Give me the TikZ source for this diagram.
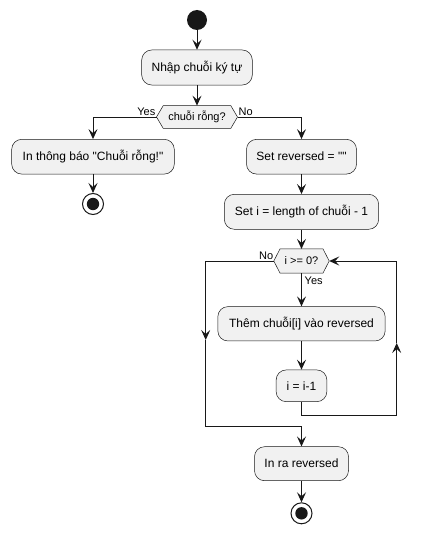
\documentclass[tikz,border=0pt]{standalone}
\usepackage{fontspec}
\setmainfont{Liberation Sans}[Ligatures=TeXOff]
\usetikzlibrary{arrows.meta,calc}
\definecolor{boxfill}{HTML}{F1F1F1}
\definecolor{linec}{HTML}{181818}
\newcommand\drawhex[2]{%
  \draw[hexline] (#1.west) -- ($(#1.north west)+(#2,0)$) -- ($(#1.north east)+(-#2,0)$) -- (#1.east) -- ($(#1.south east)+(-#2,0)$) -- ($(#1.south west)+(#2,0)$) -- cycle;}
\begin{document}
\begin{tikzpicture}[x=1pt,y=-1pt,
  actbox/.style={draw=linec, line width=0.5pt, fill=boxfill, rounded corners=10pt, inner sep=0pt, font=\fontsize{12}{14}\selectfont, align=center},
  hexnode/.style={inner sep=0pt, font=\fontsize{11}{13}\selectfont},
  hexline/.style={draw=linec, line width=0.5pt, fill=boxfill},
  conn/.style={draw=linec, line width=1pt, -{Stealth[length=10pt,width=9pt,inset=4pt]}},
  plain/.style={draw=linec, line width=1pt},
  lbl/.style={font=\fontsize{11}{13}\selectfont, inner sep=0pt},
  startdot/.style={circle, fill=linec, minimum size=20pt, inner sep=0pt},
  enddot/.style={circle, draw=linec, line width=1pt, fill=white, minimum size=21pt, inner sep=0pt}]
\useasboundingbox[fill=white] (0,0) rectangle (423,535);

\node[startdot] (start) at (197,20) {};
\node[actbox, minimum width=110.6pt, minimum height=35pt] (n1) at (197,67.5) {Nhập chuỗi ký tự};
\node[hexnode, minimum width=80.6pt, minimum height=22.3pt] (d1) at (197,117) {};
\drawhex{d1}{6.7}
\node[hexnode] at (d1) {chuỗi rỗng?};

\node[actbox, minimum width=162.6pt, minimum height=34.7pt] (n2) at (93,156.7) {In thông báo "Chuỗi rỗng!"};
\node[enddot] (end1) at (93,204) {};
\fill[linec] (end1.center) circle (6.2pt);

\node[actbox, minimum width=110pt, minimum height=34.7pt] (n3) at (301.5,156.7) {Set reversed = ""};
\node[actbox, minimum width=154.3pt, minimum height=35pt] (n4) at (301.5,211.8) {Set i = length of chuỗi - 1};
\node[hexnode, minimum width=55pt, minimum height=23.7pt] (d2) at (301.5,261) {};
\drawhex{d2}{6.2}
\node[hexnode] at (d2) {i >= 0?};
\node[actbox, minimum width=167.3pt, minimum height=34.3pt] (n5) at (301.5,323.8) {Thêm chuỗi[i] vào reversed};
\node[actbox, minimum width=50.7pt, minimum height=31.7pt] (n6) at (301.5,385.8) {i = i-1};
\node[actbox, minimum width=94pt, minimum height=34pt] (n7) at (301.5,463.7) {In ra reversed};
\node[enddot] (end2) at (301.5,513.3) {};
\fill[linec] (end2.center) circle (6.2pt);

\draw[conn] (start) -- (n1);
\draw[conn] (n1) -- (d1);
\draw[conn] (d1.west) -| (n2.north);
\draw[conn] (d1.east) -| (n3.north);
\node[lbl, anchor=south east] at (155.5,115.5) {Yes};
\node[lbl, anchor=south west] at (238.5,115.5) {No};
\draw[conn] (n2) -- (end1);
\draw[conn] (n3) -- (n4);
\draw[conn] (n4) -- (d2);
\draw[conn] (d2) -- (n5);
\node[lbl, anchor=north west] at (304.5,276.5) {Yes};
\node[lbl, anchor=south east] at (273.5,259.5) {No};
\draw[conn] (n5) -- (n6);

\coordinate (r1) at (301.5,415);
\coordinate (r2) at (396.7,415);
\coordinate (rm) at (396.7,343);
\coordinate (r3) at (396.7,261);
\draw[conn] (n6.south) -- (r1) -- (r2) -- (rm);
\draw[conn] (rm) -- (r3) -- (d2.east);

\coordinate (l1) at (205.7,261);
\coordinate (lm) at (205.7,340);
\coordinate (l2) at (205.7,426.7);
\coordinate (l3) at (301.5,426.7);
\draw[conn] (d2.west) -- (l1) -- (lm);
\draw[conn] (lm) -- (l2) -- (l3) -- (n7.north);

\draw[conn] (n7) -- (end2);
\end{tikzpicture}
\end{document}
